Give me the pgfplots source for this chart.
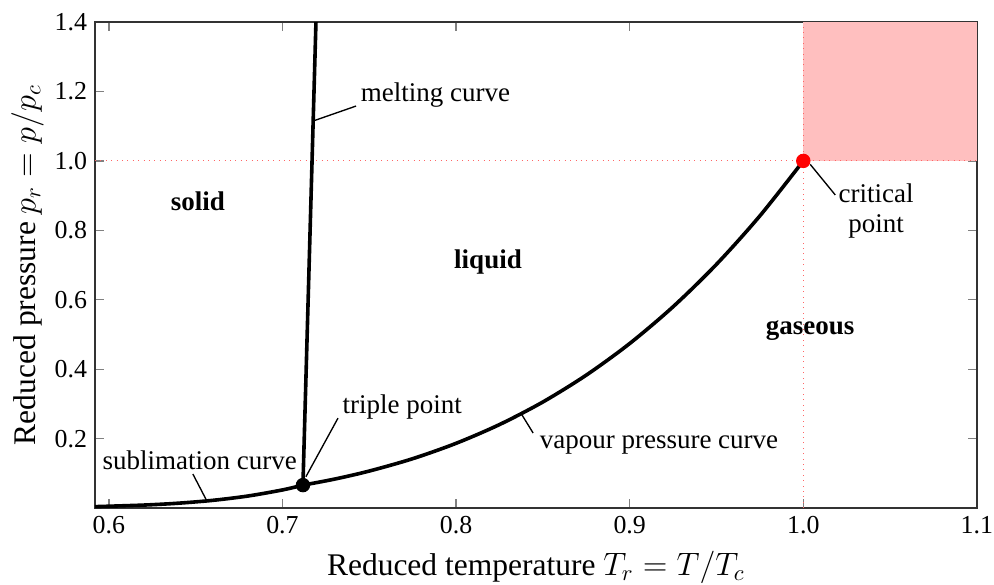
\documentclass[border=0pt]{standalone}
\usepackage{pgfplots}
\pgfplotsset{compat=1.18}
\usepackage{fontspec}
\setmainfont{Liberation Serif}
\definecolor{pinkfill}{RGB}{255,191,191}
\begin{document}
\begin{tikzpicture}
\begin{axis}[
  scale only axis,
  width=392pt, height=216pt,
  xmin=0.592, xmax=1.1, ymin=0, ymax=1.4,
  xtick={0.6,0.7,0.8,0.9,1.0,1.1},
  ytick={0.2,0.4,0.6,0.8,1.0,1.2,1.4},
  xticklabels={0.6,0.7,0.8,0.9,1.0,1.1},
  yticklabels={0.2,0.4,0.6,0.8,1.0,1.2,1.4},
  tick align=inside,
  major tick length=4pt,
  tick style={gray, line width=0.6pt},
  axis line style={black!80, line width=0.6pt},
  ticklabel style={font=\fontsize{11.5}{12}\selectfont},
  label style={font=\rmfamily\fontsize{14}{16}\selectfont},
  xlabel={Reduced temperature $T_r = T/T_c$},
  ylabel={Reduced pressure $p_r = p/p_c$},
  xlabel style={yshift=-1pt},
  ylabel style={yshift=-2pt},
  clip=false,
]
% supercritical region
\addplot[fill=pinkfill, draw=none] coordinates {(1.0,1.0) (1.1,1.0) (1.1,1.4) (1.0,1.4)} -- cycle;
% dotted reference lines
\addplot[red!60, dotted, line width=0.4pt] coordinates {(0.592,1.0) (1.1,1.0)};
\addplot[red!60, dotted, line width=0.4pt] coordinates {(1.0,0) (1.0,1.4)};
% sublimation curve
\addplot[black, line width=1.6pt, smooth] coordinates {
 (0.592,0.0040) (0.62,0.0085) (0.64,0.0139) (0.66,0.0222) (0.68,0.0345) (0.70,0.0521) (0.7118,0.0660)};
% vapour pressure curve
\addplot[black, line width=1.6pt, smooth] coordinates {
 (0.7118,0.0660) (0.73,0.0833) (0.75,0.1065) (0.775,0.1421) (0.80,0.1864) (0.825,0.2404)
 (0.85,0.3055) (0.875,0.3829) (0.90,0.4739) (0.925,0.5799) (0.95,0.7021) (0.975,0.8417) (1.0,1.0)};
% melting curve
\addplot[black, line width=1.6pt] coordinates {(0.7118,0.066) (0.7193,1.4)};
% annotation leader lines
\addplot[black, line width=0.6pt] coordinates {(0.7177,1.115) (0.7424,1.158)};
\addplot[black, line width=0.6pt] coordinates {(0.7135,0.09) (0.732,0.259)};
\addplot[black, line width=0.6pt] coordinates {(0.6565,0.020) (0.6484,0.098)};
\addplot[black, line width=0.6pt] coordinates {(0.8375,0.272) (0.8444,0.216)};
\addplot[black, line width=0.6pt] coordinates {(1.004,0.99) (1.0184,0.902)};
% points
\addplot[only marks, mark=*, mark size=3pt, black] coordinates {(0.7118,0.066)};
\addplot[only marks, mark=*, mark size=3pt, red] coordinates {(1.0,1.0)};
% labels
\node[anchor=west, font=\rmfamily\fontsize{12}{14}\selectfont, inner sep=1pt] at (axis cs:0.7436,1.19) {melting curve};
\node[anchor=west, font=\rmfamily\fontsize{12}{14}\selectfont, inner sep=1pt] at (axis cs:0.7331,0.291) {triple point};
\node[font=\rmfamily\fontsize{12}{14}\selectfont, inner sep=1pt] at (axis cs:0.6524,0.138) {sublimation curve};
\node[anchor=west, font=\rmfamily\fontsize{12}{14}\selectfont, inner sep=1pt] at (axis cs:0.8467,0.182) {vapour pressure curve};
\node[align=center, font=\rmfamily\fontsize{12}{13.5}\selectfont, inner sep=1pt] at (axis cs:1.042,0.855) {critical\\point};
\node[font=\rmfamily\bfseries\fontsize{12}{14}\selectfont] at (axis cs:0.6513,0.885) {solid};
\node[font=\rmfamily\bfseries\fontsize{12}{14}\selectfont] at (axis cs:0.8184,0.709) {liquid};
\node[font=\rmfamily\bfseries\fontsize{12}{14}\selectfont] at (axis cs:1.004,0.51) {gaseous};
\end{axis}
\pgfresetboundingbox
\path ([shift={(-42.2pt,-34.2pt)}]current axis.south west) rectangle ([shift={(7.6pt,9.8pt)}]current axis.north east);
\end{tikzpicture}
\end{document}
